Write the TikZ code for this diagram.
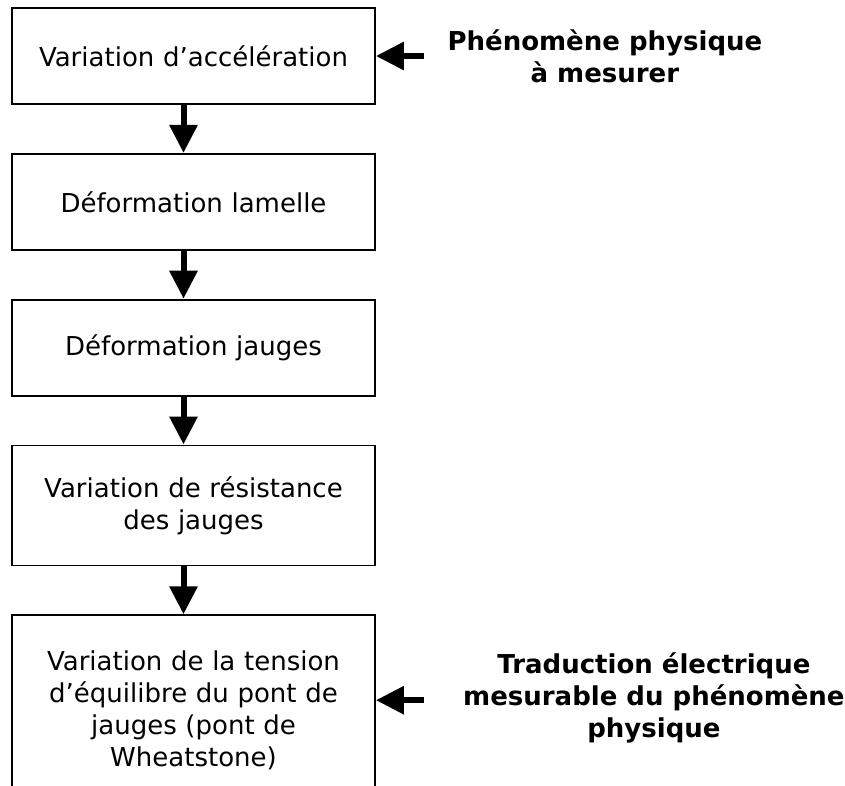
\documentclass[tikz,border=0pt]{standalone}
\usepackage{fontspec}
\setmainfont{DejaVu Sans}
\usetikzlibrary{positioning}
\usetikzlibrary{calc}
\usetikzlibrary{arrows.meta}

\begin{document}
\begin{tikzpicture}[
    >={Triangle[width=27pt,length=28pt]},
    node distance=48pt,
    every node/.style={font=\fontsize{26pt}{32pt}\selectfont},
    block/.style={draw, line width=1.8pt, minimum width=363pt, minimum height=96pt, text width=340pt, align=center},
    note/.style={font=\fontsize{26pt}{32pt}\selectfont\bfseries, align=center},
    flow/.style={->, line width=6pt}
]
\useasboundingbox (0,0) rectangle (845pt,-785pt);
\clip (0,0) rectangle (845pt,-785pt);
\node[block] (accel) at (193.5pt,-56pt) {Variation d’accélération};
\node[block, below=of accel] (lamelle) {Déformation lamelle};
\node[block, below=of lamelle] (jauges) {Déformation jauges};
\node[block, below=of jauges, minimum height=120pt] (resist) {Variation de résistance\\des jauges};
\node[block, below=of resist, minimum height=190pt] (tension) {Variation de la tension\\d’équilibre du pont de\\jauges (pont de\\Wheatstone)};
\node[note] (phenom) at ($(accel.east)+(229pt,0)$) {Phénomène physique\\à mesurer};
\node[note] (traduc) at ($(tension.east)+(278pt,12pt)$) {Traduction électrique\\mesurable du phénomène\\physique};
\coordinate (in1) at ($(accel.east)+(48pt,0)$);
\coordinate (in2) at ($(tension.east)+(48pt,10pt)$);
\draw[flow] ([xshift=-10pt]accel.south) -- ([xshift=-10pt]lamelle.north);
\draw[flow] ([xshift=-10pt]lamelle.south) -- ([xshift=-10pt]jauges.north);
\draw[flow] ([xshift=-10pt]jauges.south) -- ([xshift=-10pt]resist.north);
\draw[flow] ([xshift=-10pt]resist.south) -- ([xshift=-10pt]tension.north);
\draw[flow] (in1) -- (in1 -| accel.east);
\draw[flow] (in2) -- (in2 -| tension.east);
\end{tikzpicture}
\end{document}
